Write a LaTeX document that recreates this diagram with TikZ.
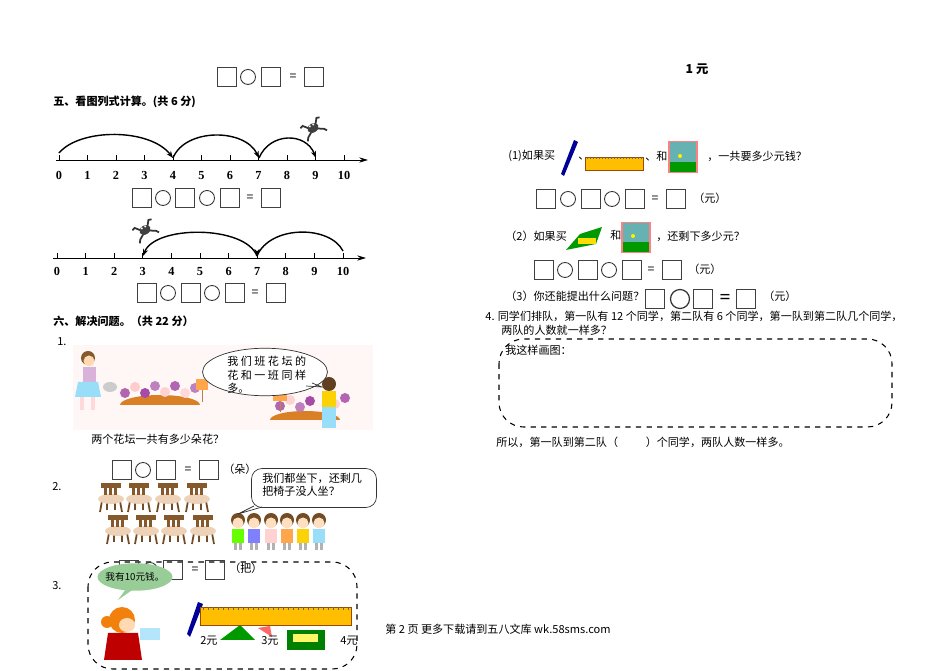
\documentclass[tikz,border=0pt]{standalone}
\usepackage{fontspec}
\setmainfont{Liberation Serif}
\newfontfamily\cjk{Noto Sans CJK SC}
\usetikzlibrary{arrows.meta,shapes.geometric,shapes.callouts}
\begin{document}
\begin{tikzpicture}[x=0.02cm,y=-0.02cm,
  sq/.style={draw=black!75,line width=0.7pt,minimum width=0.38cm,minimum height=0.38cm,inner sep=0},
  cir/.style={circle,draw=black!80,line width=0.5pt,minimum size=0.3cm,inner sep=0},
  eqs/.style={inner sep=0,font=\cjk\fontsize{7}{8}\selectfont},
  txt/.style={anchor=west,inner sep=0,font=\cjk\fontsize{6.3}{7.6}\selectfont},
  btxt/.style={txt,font=\cjk\bfseries\fontsize{6.3}{7.6}\selectfont},
  lbl/.style={inner sep=0,text height=5pt,text depth=0pt,font=\fontsize{7}{8}\selectfont\bfseries},
  jump/.style={line width=0.8pt,-{Stealth[length=4pt,width=3pt]}},
  dbox/.style={draw,dashed,rounded corners=14pt,line width=0.6pt}]
\useasboundingbox (0,0) rectangle (950,671);
\fill[white] (0,0) rectangle (950,671);
% ---- top equation
\node[sq] (t1) at (227,77) {}; \node[cir] (t2) at (248,77) {}; \node[sq] (t3) at (271,77) {};
\node[eqs] (t4) at (293,77) {=}; \node[sq] (t5) at (314,77) {};
\node[lbl,font=\cjk\bfseries\fontsize{7}{8}\selectfont] (yuan1) at (697,69) {1 元};
% ---- section five
\node[btxt] (s5) at (53,102) {五、看图列式计算。(共 6 分)};
% number line 1
\coordinate (a0) at (56,160); \coordinate (a1) at (368,160);
\draw[line width=0.5pt,-{Stealth[length=5pt,width=3pt]}] (a0) -- (a1);
\foreach \i in {0,...,10}{
  \draw (59+28.5*\i,160) -- (59+28.5*\i,155);
  \node[lbl] (na\i) at (59+28.5*\i,175) {\i};}
\coordinate (p0) at (59,153); \coordinate (p4) at (173,158); \coordinate (p7) at (259,158); \coordinate (p9) at (316,158);
\draw[jump] (p0) .. controls (80,128) and (150,128) .. (p4);
\draw[jump] (p4) .. controls (185,128) and (245,128) .. (p7);
\draw[jump] (p7) .. controls (270,132) and (306,132) .. (p9);
% frog 1
\begin{scope}[shift={(313,128)},rotate=30]
\draw[black!80,line width=1pt] (-4,-2)--(-8,-7)--(-11,-6) (4,-2)--(8,-7)--(11,-6) (-4,3)--(-9,6)--(-11,9) (4,3)--(9,6)--(11,9);
\fill[black!75] (0,0) ellipse (6 and 4.5);
\fill[white] (-2,-3) circle (1.2); \fill[white] (2,-3) circle (1.2);
\end{scope}
% equation row 2
\node[sq] (b1) at (142,198) {}; \node[cir] (b2) at (163,198) {}; \node[sq] (b3) at (185,198) {};
\node[cir] (b4) at (207,198) {}; \node[sq] (b5) at (230,198) {}; \node[eqs] (b6) at (250,198) {=}; \node[sq] (b7) at (271,198) {};
% number line 2
\coordinate (c0) at (53,258); \coordinate (c1) at (366,258);
\draw[line width=0.5pt,-{Stealth[length=5pt,width=3pt]}] (c0) -- (c1);
\foreach \i in {0,...,10}{
  \draw (57+28.6*\i,258) -- (57+28.6*\i,253);
  \node[lbl] (nb\i) at (57+28.6*\i,271) {\i};}
\coordinate (q3) at (143,256); \coordinate (q7) at (257,256); \coordinate (q10) at (343,251);
\draw[jump] (q7) .. controls (245,225) and (155,225) .. (q3);
\draw[line width=0.8pt] (q10) .. controls (330,225) and (270,225) .. (q7);
\draw[line width=0.8pt,-{Stealth[length=4pt,width=3pt]}] (q7) ++(0,-3) -- (q7);
\begin{scope}[shift={(145,230)},rotate=30]
\draw[black!80,line width=1pt] (-4,-2)--(-8,-7)--(-11,-6) (4,-2)--(8,-7)--(11,-6) (-4,3)--(-9,6)--(-11,9) (4,3)--(9,6)--(11,9);
\fill[black!75] (0,0) ellipse (6 and 4.5);
\fill[white] (-2,-3) circle (1.2); \fill[white] (2,-3) circle (1.2);
\end{scope}
\node[sq] (d1) at (147,293) {}; \node[cir] (d2) at (168,293) {}; \node[sq] (d3) at (191,293) {};
\node[cir] (d4) at (212,293) {}; \node[sq] (d5) at (235,293) {}; \node[eqs] (d6) at (255,293) {=}; \node[sq] (d7) at (276,293) {};
% ---- section six
\node[btxt] (s6) at (53,321) {六、解决问题。（共 22 分）};
\node[txt] (n1) at (57,342) {1.};
% picture 1
\fill[pink!15] (73,345) rectangle (373,430);
\fill[brown!60!orange] (120,405) arc (180:360:40 and 10) -- cycle;
\fill[brown!60!orange] (270,420) arc (180:360:35 and 9) -- cycle;
\foreach \x/\y/\c in {125/393/violet!60,135/387/pink!80,145/393/violet!70,155/386/violet!50,165/392/pink!70,175/386/violet!60,185/393/pink!60,195/388/violet!50,
  280/406/violet!60,290/400/pink!70,300/407/violet!50,310/401/violet!70,335/404/pink!70,345/398/violet!60}
  \fill[\c] (\x,\y) circle (5);
\fill[orange!70] (196,379) rectangle (208,390); \draw[brown] (202,390)--(202,402);
\fill[orange!70] (273,390) rectangle (287,401); \draw[brown] (280,401)--(280,412);
% girl 1
\fill[brown!70!black] (88,358) circle (7); \fill[orange!30] (89,361) circle (5.5);
\fill[violet!30] (83,367) rectangle (96,382); \fill[cyan!40] (78,382) -- (98,382) -- (101,397) -- (75,397) -- cycle;
\fill[pink!60] (80,397) rectangle (84,410); \fill[pink!60] (91,397) rectangle (95,410);
\fill[gray!40] (110,387) ellipse (7 and 5);
% girl 2
\fill[brown!50!black] (329,384) circle (7);
\fill[yellow!70!orange] (322,391) rectangle (336,407); \fill[cyan!40] (322,407) rectangle (336,428);
\node[ellipse,draw=black!80,fill=white,minimum width=2.5cm,minimum height=0.95cm,inner sep=0] (bub1) at (265,372) {};
\node[txt,align=left,anchor=north west] (bub1t) at (227,356) {我 们 班 花 坛 的\\花 和 一 班 同 样\\多。};
\draw[black!80] (312,383) -- (322,387) -- (306,386);
\node[txt] (q1) at (91,439) {两个花坛一共有多少朵花？};
% equation (朵)
\node[sq] (e1) at (122,470) {}; \node[cir] (e2) at (143,470) {}; \node[sq] (e3) at (166,470) {};
\node[eqs] (e4) at (188,470) {=}; \node[sq] (e5) at (209,470) {}; \node[txt] (e6) at (223,469) {（朵）};
% 2.
\node[txt] (n2) at (52,487) {2.};
\foreach \x/\y in {100/483,128/483,157/483,186/483,107/515,135/515,163/515,192/515}{
  \draw[brown!60!black,line width=1pt] (\x+2,\y+18) -- (\x,\y+29) (\x+20,\y+18) -- (\x+22,\y+29) (\x+7,\y+20)--(\x+7,\y+27) (\x+15,\y+20)--(\x+15,\y+27);
  \fill[orange!20!brown!35] (\x+11,\y+16) ellipse (13 and 5);
  \fill[brown!70!black] (\x+1,\y) rectangle (\x+21,\y+5);
  \foreach \k in {4,9,14}{\fill[brown!70!black] (\x+\k,\y+5) rectangle (\x+\k+3,\y+12);}}
\foreach \x/\c in {238/green!60!yellow,254/blue!50,271/pink!70,287/orange!70,303/yellow!70!orange,319/cyan!40}{
  \fill[brown!60!black] (\x,520) circle (7); \fill[orange!25] (\x,523) circle (5.5);
  \fill[\c] (\x-6,529) rectangle (\x+6,543); \fill[gray!60] (\x-4,543) rectangle (\x-1,550); \fill[gray!60] (\x+1,543) rectangle (\x+4,550);}
\node[draw=black!80,fill=white,rounded corners=6pt,minimum width=2.5cm,minimum height=0.78cm] (bub2) at (314,488) {};
\node[txt,align=left,anchor=north west] (bub2t) at (262,473) {我们都坐下，还剩几\\把椅子没人坐？};
\draw[black!80] (262,507) -- (238,514) -- (254,506);
% 3.
\node[txt] (n3) at (52,586) {3.};
\draw[dbox] (88,562) rectangle (357,669);
\node[sq] (f1) at (129,570) {}; \node[cir] (f2) at (150,570) {}; \node[sq] (f3) at (173,570) {};
\node[eqs] (f4) at (195,570) {=}; \node[sq] (f5) at (215,570) {}; \node[txt] (f6) at (229,568) {（把）};
\node[ellipse,fill=green!35!gray!60,minimum width=1.5cm,minimum height=0.55cm,inner sep=0] (mb) at (135,577) {};
\node[inner sep=0,font=\cjk\fontsize{5.5}{6}\selectfont] (mbt) at (135,577) {我有10元钱。};
\fill[green!35!gray!60] (128,586) -- (118,600) -- (138,586) -- cycle;
% monkey
\fill[orange!80!brown] (122,620) circle (13); \fill[orange!80!brown] (107,622) circle (6);
\fill[orange!30] (127,625) ellipse (8 and 7);
\fill[red!75!black] (108,633) -- (138,633) -- (142,660) -- (104,660) -- cycle;
\fill[cyan!30] (140,628) rectangle (160,640);
% pen
\fill[blue!60!black] (198,602) -- (203,604) -- (190,637) -- (187,634) -- cycle;
% book, eraser, ruler
\fill[green!50!black] (287,630) rectangle (325,650); \fill[yellow!60] (293,634) rectangle (318,642);
\fill[red!60] (258,628) -- (270,626) -- (272,637) -- cycle;
\fill[green!60!black] (220,640) -- (240,625) -- (255,640) -- cycle;
\fill[orange!50!yellow] (200,607) rectangle (351,625); \draw[orange!60!black,line width=0.3pt] (200,607) rectangle (351,625);
\foreach \i in {0,...,29}{\draw[black!60,line width=0.2pt] (203+5*\i,607) -- (203+5*\i,610);}
\node[txt] (pr1) at (200,641) {2元}; \node[txt] (pr2) at (261,641) {3元}; \node[txt] (pr3) at (340,641) {4元};
\node[txt] (foot) at (385,629) {第 2 页 更多下载请到五八文库 wk.58sms.com};
% ---- right column
\node[txt] (r1) at (508,156) {(1)如果买};
\fill[blue!60!black] (574,140) -- (578,142) -- (564,176) -- (561,174) -- cycle;
\node[txt] (r1b) at (578,159) {、};
\fill[orange!50!yellow] (585,157) rectangle (643,170); \draw[orange!60!black,line width=0.3pt] (585,157) rectangle (643,170);
\foreach \i in {0,...,18}{\draw[black!60,line width=0.2pt] (587+3*\i,157) -- (587+3*\i,159);}
\node[txt] (r1c) at (645,156) {、和};
\fill[red!50] (668,141) rectangle (698,173); \fill[teal!60] (670,142) rectangle (696,172); \fill[green!60!black] (670,162) rectangle (696,172); \fill[yellow] (680,156) circle (2);
\node[txt] (r1d) at (707,156) {，一共要多少元钱？};
\node[sq] (g1) at (546,199) {}; \node[cir] (g2) at (568,199) {}; \node[sq] (g3) at (591,199) {};
\node[cir] (g4) at (612,199) {}; \node[sq] (g5) at (635,199) {}; \node[eqs] (g6) at (655,199) {=}; \node[sq] (g7) at (676,199) {};
\node[txt] (g8) at (693,198) {（元）};
\node[txt] (r2) at (505,236) {（2）如果买};
\fill[green!60!black] (566,250) -- (580,234) -- (602,227) -- (596,244) -- cycle; \fill[yellow!80!orange] (578,238) rectangle (596,244);
\node[txt] (r2b) at (610,235) {和};
\fill[red!50] (621,222) rectangle (651,253); \fill[teal!60] (623,223) rectangle (649,252); \fill[green!60!black] (623,242) rectangle (649,252); \fill[yellow] (633,236) circle (2);
\node[txt] (r2c) at (656,236) {，还剩下多少元？};
\node[sq] (h1) at (544,270) {}; \node[cir] (h2) at (565,270) {}; \node[sq] (h3) at (588,270) {};
\node[cir] (h4) at (609,270) {}; \node[sq] (h5) at (632,270) {}; \node[eqs] (h6) at (651,270) {=}; \node[sq] (h7) at (672,270) {};
\node[txt] (h8) at (688,269) {（元）};
\node[txt] (r3) at (505,296) {（3）你还能提出什么问题？};
\node[sq] (k1) at (655,299) {}; \node[circle,draw=black!80,line width=0.7pt,minimum size=0.38cm,inner sep=0] (k2) at (680,299) {}; \node[sq] (k3) at (703,299) {};
\node[eqs,font=\bfseries\fontsize{11}{12}\selectfont] (k4) at (725,299) {=}; \node[sq] (k5) at (746,299) {};
\node[txt] (k6) at (763,296) {（元）};
\node[txt] (r4) at (485,316) {4. 同学们排队，第一队有 12 个同学，第二队有 6 个同学，第一队到第二队几个同学，};
\node[txt] (r4b) at (501,330) {两队的人数就一样多？};
\draw[dbox] (499,339) rectangle (892,427);
\node[txt] (r4c) at (505,350) {我这样画图：};
\node[txt] (r4d) at (496,442) {所以，第一队到第二队（\hspace{2.5em}）个同学，两队人数一样多。};
\end{tikzpicture}
\end{document}
